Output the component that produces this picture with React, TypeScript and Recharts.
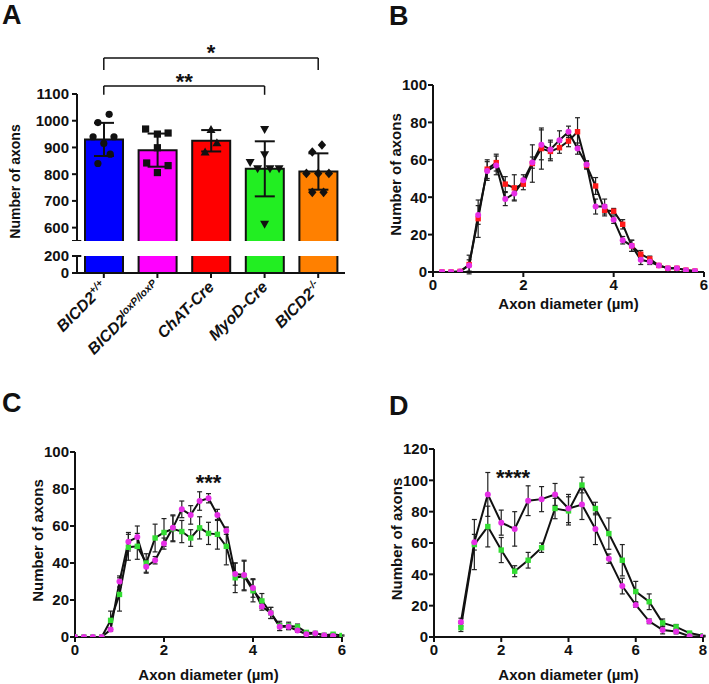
import React from 'react';
import {
  ComposedChart, LineChart, Line, Bar, Scatter, XAxis, YAxis, ErrorBar,
  ReferenceLine, ReferenceDot,
} from 'recharts';

const FONT = '"Liberation Sans", Arial, Helvetica, sans-serif';
const INK = '#111111';

// ---------------- Panel A: axon counts per genotype ----------------
const genotypeBase = ['BICD2', 'BICD2', 'ChAT-Cre', 'MyoD-Cre', 'BICD2'];
const genotypeSup = ['+/+', 'loxP/loxP', '', '', '-/-'];
const meanAxons = [930, 890, 925, 820, 810];
const sdAxons = [62, 62, 40, 103, 68];
const genotypeColors = ['#0000ff', '#ff00ff', '#ff0000', '#22ee22', '#ff8000'];

const wtAxons = [1024, 993, 940, 940, 915, 875, 840];
const wtOffset = [0.1, -0.11, -0.2, 0.19, 0, 0.12, -0.11];
const floxAxons = [969, 950, 954, 899, 842, 832, 806];
const floxOffset = [-0.22, 0, 0.2, 0, -0.2, 0.2, 0];
const chatAxons = [967, 918, 883];
const chatOffset = [0, 0.11, -0.11];
const myodAxons = [967, 873, 844, 820, 820, 820, 613];
const myodOffset = [0, 0, -0.27, -0.13, 0.1, 0.27, 0];
const koAxons = [909, 883, 803, 803, 803, 732, 732];
const koOffset = [0.07, -0.11, -0.22, 0, 0.2, -0.11, 0.1];

const comparisonFrom = [0, 0];
const comparisonTo = [4, 3];
const comparisonLabel = ['*', '**'];

// ---------------- Panel B: ChAT-Cre (red) vs BICD2 loxP/loxP (magenta) ----------------
const diamB = [0.2, 0.4, 0.6, 0.8, 1.0, 1.2, 1.4, 1.6, 1.8, 2.0, 2.2, 2.4, 2.6, 2.8, 3.0, 3.2, 3.4, 3.6, 3.8, 4.0, 4.2, 4.4, 4.6, 4.8, 5.0, 5.2, 5.4, 5.6, 5.8];
const chatB = [0, 0, 0.3, 4, 28.5, 55, 58.5, 47, 45, 47, 58, 66, 64.5, 66.5, 70, 75, 57, 46, 33, 32.5, 25.5, 14, 9.5, 7, 3.5, 2, 2, 1, 0.5];
const chatBErr = [0, 0, 0.3, 5, 10, 5, 4.5, 4, 7, 3, 10, 11, 5, 3, 3, 7.5, 2, 4.5, 3, 1.5, 2.5, 3, 2, 1.5, 0.5, 0.5, 0.5, 0.3, 0.3];
const floxB = [0, 0, 0.3, 3.5, 30.5, 54, 57, 39, 42, 49, 58.5, 68, 65.5, 70.5, 75, 66, 57.5, 35, 35, 28, 17, 14, 6.5, 5.5, 3.5, 2, 2, 1, 0.5];
const floxBErr = [0, 0, 0.3, 3, 5, 5, 5, 3.5, 3.5, 3, 3, 8, 5, 5, 3, 3, 2, 4, 4, 2, 2, 3, 2.5, 1.5, 0.5, 0.5, 0.5, 0.3, 0.3];

// ---------------- Panel C: MyoD-Cre (green) vs BICD2 loxP/loxP (magenta) ----------------
const diamC = [0, 0.2, 0.4, 0.6, 0.8, 1.0, 1.2, 1.4, 1.6, 1.8, 2.0, 2.2, 2.4, 2.6, 2.8, 3.0, 3.2, 3.4, 3.6, 3.8, 4.0, 4.2, 4.4, 4.6, 4.8, 5.0, 5.2, 5.4, 5.6, 5.8, 6.0];
const myodC = [0, 0, 0, 0, 9, 23, 48.5, 49, 40, 53.5, 56.5, 58.5, 57, 53.5, 59, 56, 55.5, 49, 32, 33, 25, 19.5, 13, 6, 6, 5.5, 2.5, 2, 1, 1.5, 0.8];
const myodCErr = [0, 0, 0, 0, 5, 9, 7, 7, 5, 7.5, 7.5, 7, 6, 4.5, 6, 6, 8, 10, 8, 8, 6, 4, 3, 2.5, 2, 1.5, 0.5, 0.5, 0.3, 0.5, 0.3];
const floxC = [0, 0, 0, 0, 4, 30, 51.5, 54, 38, 41.5, 50.5, 59, 69, 66, 73.5, 75, 66, 57.5, 34, 33.5, 26.5, 16.5, 13, 5.5, 5.5, 3.5, 1.5, 2, 1, 0.5, null];
const floxCErr = [0, 0, 0, 0, 1, 3, 5, 6, 3.5, 2, 3, 7, 4.5, 5, 5, 2.5, 3, 2, 6, 8, 5, 2, 3, 2, 1.5, 1, 0.5, 0.5, 0.3, 0.3, null];
const starC = { x: 3.0, y: 86, label: '***' };

// ---------------- Panel D: MyoD-Cre (green) vs BICD2 loxP/loxP (magenta) ----------------
const diamD = [0.8, 1.2, 1.6, 2.0, 2.4, 2.8, 3.2, 3.6, 4.0, 4.4, 4.8, 5.2, 5.6, 6.0, 6.4, 6.8, 7.2, 7.6, 8.0];
const myodD = [6, 59, 70.5, 55.5, 42, 49, 57, 82, 80.5, 97, 82, 66, 49, 29, 22.5, 9, 6.5, 2.5, 0.8];
const myodDErr = [2.5, 16, 13, 8, 3.5, 5, 3, 6.5, 9, 5, 4, 10, 10, 6.5, 5, 2.5, 1.5, 1, 0.3];
const floxD = [9.5, 60.5, 91, 73, 69, 87, 88, 91, 82, 84.5, 69, 50, 32.5, 20.5, 10, 4.5, 3.5, 0.5, 0.3];
const floxDErr = [2.5, 5, 14, 8, 11, 9.5, 8, 7, 9, 9.5, 10, 3, 5, 1.5, 1.5, 2.5, 1.5, 0.5, 0.3];
const starD = { x: 2.35, y: 104.7, label: '****' };

// ---------------- helpers ----------------
const barData = genotypeBase.map((b, i) => ({ name: b + genotypeSup[i], mean: meanAxons[i], sd: sdAxons[i] }));

const scatterGroups = [
  { vals: wtAxons, offs: wtOffset, kind: 'circle' },
  { vals: floxAxons, offs: floxOffset, kind: 'square' },
  { vals: chatAxons, offs: chatOffset, kind: 'triangle' },
  { vals: myodAxons, offs: myodOffset, kind: 'invtriangle' },
  { vals: koAxons, offs: koOffset, kind: 'diamond' },
].map((g, gi) => ({ kind: g.kind, data: g.vals.map((v, i) => ({ x: gi + g.offs[i], y: v })) }));

const markerShape = (kind: string) => (p: any) => {
  const { cx, cy } = p;
  if (cx == null || cy == null) return <g />;
  if (kind === 'circle') return <circle cx={cx} cy={cy} r={3.6} fill={INK} />;
  if (kind === 'square') return <rect x={cx - 3.6} y={cy - 3.6} width={7.2} height={7.2} fill={INK} />;
  if (kind === 'triangle') return <path d={`M${cx},${cy - 4.5}L${cx + 4.5},${cy + 3.5}L${cx - 4.5},${cy + 3.5}Z`} fill={INK} />;
  if (kind === 'invtriangle') return <path d={`M${cx},${cy + 4.5}L${cx + 4.5},${cy - 3.5}L${cx - 4.5},${cy - 3.5}Z`} fill={INK} />;
  return <path d={`M${cx},${cy - 4.8}L${cx + 4.2},${cy}L${cx},${cy + 4.8}L${cx - 4.2},${cy}Z`} fill={INK} />;
};

const UpperBarShape = (p: any) => {
  const { x, y, width, height, index } = p;
  return (
    <g>
      <rect x={x} y={y} width={width} height={height} fill={genotypeColors[index]} />
      <path d={`M${x},${y + height}V${y}H${x + width}V${y + height}`} fill="none" stroke={INK} strokeWidth={2} />
    </g>
  );
};

const LowerBarShape = (p: any) => {
  const { x, y, width, height, index, background } = p;
  const top = background && background.y != null ? Math.max(y, background.y) : y;
  const h = y + height - top;
  return (
    <g>
      <rect x={x} y={top} width={width} height={h} fill={genotypeColors[index]} />
      <path d={`M${x},${top}V${top + h}M${x + width},${top}V${top + h}`} fill="none" stroke={INK} strokeWidth={2} />
    </g>
  );
};

const GenotypeTick = (p: any) => {
  const { x, y, index } = p;
  const ax = x + 4;
  const ay = y + 8;
  return (
    <text x={ax} y={ay} transform={`rotate(-45 ${ax} ${ay})`} textAnchor="end"
      fontFamily={FONT} fontWeight="bold" fontStyle="italic" fontSize={16} fill={INK}>
      {genotypeBase[index]}
      {genotypeSup[index] ? <tspan dy={-6} fontSize={10.5}>{genotypeSup[index]}</tspan> : null}
    </text>
  );
};

const axisStyle = {
  axisLine: { stroke: INK, strokeWidth: 2 },
  tickLine: { stroke: INK, strokeWidth: 2 },
  tick: { fill: INK, fontSize: 15, fontWeight: 'bold', fontFamily: FONT },
};

const yTitle = (dx: number, dy: number, size: number) => (props: any) => {
  const vb = props.viewBox || {};
  const cx = vb.x + vb.width + dx;
  const cy = vb.y + vb.height / 2 + dy;
  return (
    <text x={cx} y={cy} transform={`rotate(-90 ${cx} ${cy})`} textAnchor="middle" dominantBaseline="central"
      fontFamily={FONT} fontWeight="bold" fontSize={size} fill={INK}>Number of axons</text>
  );
};

const xTitle = (baseline: number) => (props: any) => {
  const vb = props.viewBox || {};
  return (
    <text x={vb.x + vb.width / 2} y={vb.y + baseline} textAnchor="middle"
      fontFamily={FONT} fontWeight="bold" fontSize={15} fill={INK}>Axon diameter (µm)</text>
  );
};

const starLabel = (text: string, shift: number) => (props: any) => {
  const vb = props.viewBox || {};
  return (
    <text x={vb.x + (vb.width || 0) / 2} y={vb.y + shift} textAnchor="middle"
      fontFamily={FONT} fontWeight="bold" fontSize={22} fill={INK}>{text}</text>
  );
};

const squareDot = (color: string) => (p: any) => {
  if (p.value == null || p.cy == null) return <g key={`d${p.index}`} />;
  return <rect key={`d${p.index}`} x={p.cx - 2.7} y={p.cy - 2.7} width={5.4} height={5.4} fill={color} />;
};
const circleDot = (color: string) => (p: any) => {
  if (p.value == null || p.cy == null) return <g key={`d${p.index}`} />;
  return <circle key={`d${p.index}`} cx={p.cx} cy={p.cy} r={3} fill={color} />;
};

// small caps at the ends of the broken y axis (in units of the hidden numeric x axis)
const capRight = -0.42;

function PanelA() {
  const yTicksUpper = [550, 600, 700, 800, 900, 1000, 1100];
  const bracketY = [1235, 1130];
  const tipY = [1190, 1097];
  return (
    <>
      <div style={{ position: 'absolute', left: 0, top: 0 }}>
        <ComposedChart width={360} height={241} data={barData} margin={{ top: 94, right: 15, bottom: 0, left: 19 }}>
          <XAxis xAxisId="cat" dataKey="name" type="category" hide />
          <XAxis xAxisId="num" dataKey="x" type="number" domain={[-0.5, 4.5]} hide allowDataOverflow />
          <YAxis width={58} type="number" domain={[550, 1100]} ticks={yTicksUpper} allowDataOverflow interval={0}
            tickFormatter={(v: number) => (v === 550 ? '' : String(v))} tickSize={5} tickMargin={3}
            {...axisStyle} label={yTitle(-62, 14, 14)} />
          <Bar xAxisId="cat" dataKey="mean" barSize={38} shape={UpperBarShape} isAnimationActive={false}>
            <ErrorBar dataKey="sd" width={10} stroke={INK} strokeWidth={2} />
          </Bar>
          {scatterGroups.map((g, i) => (
            <Scatter key={`sc${i}`} xAxisId="num" data={g.data} dataKey="y" shape={markerShape(g.kind)} isAnimationActive={false} />
          ))}
          <ReferenceLine xAxisId="num" ifOverflow="visible" stroke={INK} strokeWidth={2}
            segment={[{ x: -0.5, y: 550 }, { x: capRight, y: 550 }]} />
          {comparisonFrom.map((f, i) => (
            <ReferenceLine key={`bh${i}`} xAxisId="num" ifOverflow="visible" stroke={INK} strokeWidth={1.5}
              segment={[{ x: f, y: bracketY[i] }, { x: comparisonTo[i], y: bracketY[i] }]}
              label={starLabel(comparisonLabel[i], i === 0 ? 2 : 3)} />
          ))}
          {comparisonFrom.map((f, i) => (
            <ReferenceLine key={`bl${i}`} xAxisId="num" ifOverflow="visible" stroke={INK} strokeWidth={1.5}
              segment={[{ x: f, y: bracketY[i] }, { x: f, y: tipY[i] }]} />
          ))}
          {comparisonTo.map((t, i) => (
            <ReferenceLine key={`br${i}`} xAxisId="num" ifOverflow="visible" stroke={INK} strokeWidth={1.5}
              segment={[{ x: t, y: bracketY[i] }, { x: t, y: tipY[i] }]} />
          ))}
        </ComposedChart>
      </div>
      <div style={{ position: 'absolute', left: 0, top: 0 }}>
        <ComposedChart width={360} height={360} data={barData} margin={{ top: 256, right: 15, bottom: 0, left: 19 }}>
          <XAxis xAxisId="cat" dataKey="name" type="category" height={87} interval={0} tickSize={5}
            axisLine={axisStyle.axisLine} tickLine={axisStyle.tickLine} tick={<GenotypeTick />} />
          <XAxis xAxisId="num" dataKey="x" type="number" domain={[-0.5, 4.5]} hide allowDataOverflow />
          <YAxis width={58} type="number" domain={[0, 200]} ticks={[0, 200]} allowDataOverflow interval={0}
            tickSize={5} tickMargin={3} {...axisStyle} />
          <Bar xAxisId="cat" dataKey="mean" barSize={38} shape={LowerBarShape} isAnimationActive={false} />
          <ReferenceLine xAxisId="num" ifOverflow="visible" stroke={INK} strokeWidth={2}
            segment={[{ x: -0.5, y: 200 }, { x: capRight, y: 200 }]} />
        </ComposedChart>
      </div>
    </>
  );
}

type Series = { values: (number | null)[]; errors: (number | null)[]; color: string; marker: string };

function DistPanel(props: {
  left: number; top: number; width: number; height: number;
  margin: { top: number; right: number; bottom: number; left: number };
  diam: number[]; series: Series[]; xMax: number; xTicks: number[]; yMax: number; yTicks: number[];
  titleBaseline: number; star?: { x: number; y: number; label: string };
}) {
  const { left, top, width, height, margin, diam, series, xMax, xTicks, yMax, yTicks, titleBaseline, star } = props;
  const data = diam.map((d, i) => {
    const row: any = { d };
    series.forEach((s, k) => {
      row[`s${k}`] = s.values[i];
      row[`e${k}`] = s.errors[i];
    });
    return row;
  });
  return (
    <div style={{ position: 'absolute', left, top }}>
      <LineChart width={width} height={height} data={data} margin={margin}>
        <XAxis dataKey="d" type="number" domain={[0, xMax]} ticks={xTicks} allowDataOverflow height={22} interval={0}
          tickSize={5} tickMargin={2} {...axisStyle} label={xTitle(titleBaseline)} />
        <YAxis type="number" domain={[0, yMax]} ticks={yTicks} allowDataOverflow width={60} interval={0}
          tickSize={5} tickMargin={1} {...axisStyle} label={yTitle(-38, -4, 15)} />
        {series.map((s, k) => (
          <Line key={`l${k}`} dataKey={`s${k}`} type="linear" stroke={INK} strokeWidth={2}
            dot={s.marker === 'square' ? squareDot(s.color) : circleDot(s.color)}
            activeDot={false} isAnimationActive={false}>
            <ErrorBar dataKey={`e${k}`} width={2.5} stroke="#222" strokeWidth={1.2} />
          </Line>
        ))}
        {star ? (
          <ReferenceDot x={star.x} y={star.y} r={0} fill="none" stroke="none" label={starLabel(star.label, 12)} />
        ) : null}
      </LineChart>
    </div>
  );
}

export default function App() {
  return (
    <div style={{ position: 'absolute', left: 0, top: 0, width: 709, height: 684, background: '#fff', fontFamily: FONT, overflow: 'hidden' }}>
      <PanelA />
      <DistPanel left={340} top={40} width={369} height={290}
        margin={{ top: 45, right: 5, bottom: 36, left: 33 }}
        diam={diamB}
        series={[
          { values: chatB, errors: chatBErr, color: '#ff1a1a', marker: 'square' },
          { values: floxB, errors: floxBErr, color: '#e62ee6', marker: 'circle' },
        ]}
        xMax={6} xTicks={[0, 2, 4, 6]} yMax={100} yTicks={[0, 20, 40, 60, 80, 100]} titleBaseline={37} />
      <DistPanel left={0} top={410} width={360} height={274}
        margin={{ top: 42, right: 18, bottom: 25, left: 15 }}
        diam={diamC}
        series={[
          { values: myodC, errors: myodCErr, color: '#33dd33', marker: 'square' },
          { values: floxC, errors: floxCErr, color: '#e62ee6', marker: 'circle' },
        ]}
        xMax={6} xTicks={[0, 2, 4, 6]} yMax={100} yTicks={[0, 20, 40, 60, 80, 100]} titleBaseline={43} star={starC} />
      <DistPanel left={340} top={410} width={369} height={274}
        margin={{ top: 39, right: 6, bottom: 25, left: 34 }}
        diam={diamD}
        series={[
          { values: myodD, errors: myodDErr, color: '#33dd33', marker: 'square' },
          { values: floxD, errors: floxDErr, color: '#e62ee6', marker: 'circle' },
        ]}
        xMax={8} xTicks={[0, 2, 4, 6, 8]} yMax={120} yTicks={[0, 20, 40, 60, 80, 100, 120]} titleBaseline={43} star={starD} />
      <svg width={709} height={684} style={{ position: 'absolute', left: 0, top: 0, pointerEvents: 'none' }}>
        <text x={2} y={24} fontFamily={FONT} fontWeight="bold" fontSize={27} fill={INK}>A</text>
        <text x={389} y={25} fontFamily={FONT} fontWeight="bold" fontSize={27} fill={INK}>B</text>
        <text x={2} y={412} fontFamily={FONT} fontWeight="bold" fontSize={27} fill={INK}>C</text>
        <text x={389} y={415} fontFamily={FONT} fontWeight="bold" fontSize={27} fill={INK}>D</text>
      </svg>
    </div>
  );
}
